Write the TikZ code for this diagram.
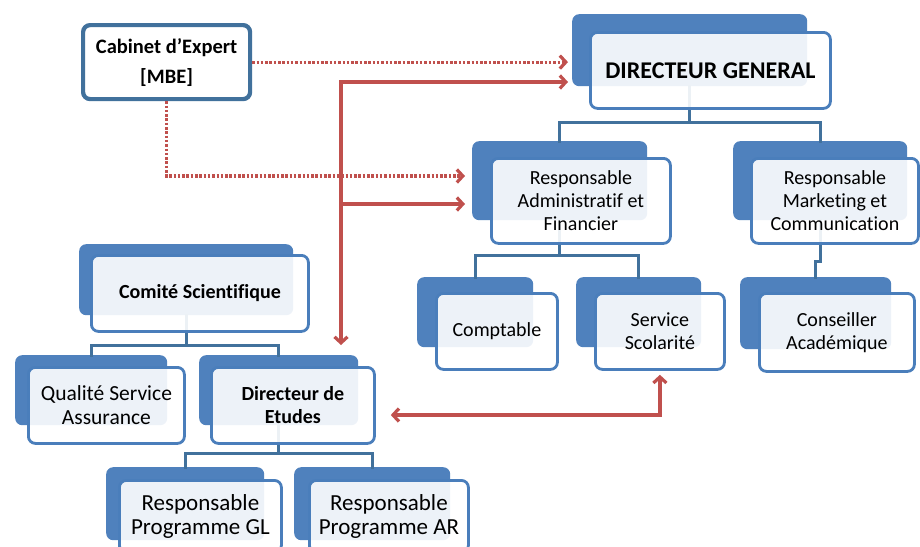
\documentclass[tikz,border=0pt]{standalone}
\usepackage{fontspec}
\setmainfont{Carlito}[Ligatures={NoCommon}]
\usetikzlibrary{arrows.meta}
\definecolor{bblue}{HTML}{4F81BD}
\definecolor{fborder}{HTML}{4A7EBB}
\definecolor{tblue}{HTML}{41719C}
\definecolor{rred}{HTML}{C0504D}
\tikzset{
  backbox/.style={fill=bblue, draw=none, rounded corners=7pt, inner sep=0pt, anchor=north west},
  frontbox/.style={draw=fborder, line width=2.8pt, fill=white, fill opacity=0.9, text opacity=1,
    rounded corners=7pt, inner sep=0pt, anchor=north west, align=center,
    font=\fontsize{20}{23}\selectfont},
  tree/.style={draw=tblue, line width=3pt, line cap=rect},
  >={Straight Barb[length=6pt,width=13pt]},
  redarr/.style={draw=rred, line width=3.2pt, ->},
  reddot/.style={draw=rred, line width=3.2pt, ->, dash pattern=on 2.5pt off 1.8pt},
}
\begin{document}
\begin{tikzpicture}[x=1pt,y=-1pt]
\useasboundingbox (0,0) rectangle (920,546);
\clip (0,0) rectangle (920,546);
\fill[white] (0,0) rectangle (920,546);
% back boxes
\node[backbox, minimum width=235pt, minimum height=72pt] (dgB) at (572,14) {};
\node[backbox, minimum width=175pt, minimum height=79pt] (rafB) at (472,141) {};
\node[backbox, minimum width=174pt, minimum height=79pt] (rmcB) at (733,141) {};
\node[backbox, minimum width=116pt, minimum height=70pt] (coB) at (417,277) {};
\node[backbox, minimum width=125pt, minimum height=70pt] (ssB) at (576,277) {};
\node[backbox, minimum width=151pt, minimum height=72pt] (cnB) at (740,277) {};
\node[backbox, minimum width=214pt, minimum height=71pt] (csB) at (79,244) {};
\node[backbox, minimum width=152pt, minimum height=70pt] (qB) at (15,355) {};
\node[backbox, minimum width=159pt, minimum height=70pt] (deB) at (199,355) {};
\node[backbox, minimum width=158pt, minimum height=73pt] (glB) at (106,467) {};
\node[backbox, minimum width=156pt, minimum height=73pt] (arB) at (294,467) {};
% tree connectors
\draw[tree] (dgB.south) -- (dgB.south |- 0,122);
\draw[tree] (rafB.north) -- (rafB.north |- 0,122) -- (rmcB.north |- 0,122) -- (rmcB.north);
\draw[tree] (rafB.south) -- (rafB.south |- 0,255);
\draw[tree] (coB.north) -- (coB.north |- 0,255) -- (ssB.north |- 0,255) -- (ssB.north);
\draw[tree] (rmcB.south) -- (rmcB.south |- 0,261) -- (cnB.north |- 0,261) -- (cnB.north);
\draw[tree] (csB.south) -- (csB.south |- 0,345);
\draw[tree] (qB.north) -- (qB.north |- 0,345) -- (deB.north |- 0,345) -- (deB.north);
\draw[tree] (deB.south) -- (deB.south |- 0,453);
\draw[tree] (glB.north) -- (glB.north |- 0,453) -- (arB.north |- 0,453) -- (arB.north);
% front boxes
\node[frontbox, minimum width=240pt, minimum height=76pt, font=\fontsize{24}{28}\selectfont\bfseries] (dgF) at (589,31) {DIRECTEUR GENERAL};
\node[frontbox, minimum width=179pt, minimum height=85pt] (rafF) at (490,157) {Responsable\\Administratif et\\Financier};
\node[frontbox, minimum width=167pt, minimum height=85pt] (rmcF) at (750,157) {Responsable\\Marketing et\\Communication};
\node[frontbox, minimum width=121pt, minimum height=76pt] (coF) at (435,292) {Comptable};
\node[frontbox, minimum width=129pt, minimum height=76pt] (ssF) at (594,292) {Service\\Scolarité};
\node[frontbox, minimum width=155pt, minimum height=78pt] (cnF) at (758,292) {Conseiller\\Académique};
\node[frontbox, minimum width=217pt, minimum height=76pt, font=\fontsize{20}{23}\selectfont\bfseries] (csF) at (90,254) {Comité Scientifique};
\node[frontbox, minimum width=156pt, minimum height=76pt, font=\fontsize{21.5}{24}\selectfont] (qF) at (27,366) {Qualité Service\\Assurance};
\node[frontbox, minimum width=163pt, minimum height=76pt, font=\fontsize{20}{23}\selectfont\bfseries] (deF) at (210,366) {Directeur de\\Etudes};
\node[frontbox, minimum width=162pt, minimum height=72pt, font=\fontsize{23}{24}\selectfont] (glF) at (118,479) {Responsable\\Programme GL};
\node[frontbox, minimum width=159pt, minimum height=72pt, font=\fontsize{23}{24}\selectfont] (arF) at (308,479) {Responsable\\Programme AR};
% cabinet
\node[draw=tblue, line width=4.2pt, fill=white, rounded corners=7pt, inner sep=0pt, anchor=north west,
  minimum width=167pt, minimum height=74pt, align=center, font=\fontsize{20.5}{30}\selectfont\bfseries] (cab) at (81,23) {Cabinet d’Expert\\{[MBE]}};
% red arrows
\coordinate (rj1) at (341,82);
\coordinate (rj2) at (341,204);
\draw[reddot, shorten >=4pt] (cab.east) -- (cab.east -| dgB.west);
\draw[reddot, shorten >=7pt] (cab.south) |- (rafB.west |- 0,176);
\draw[redarr, <->, shorten <=4pt, shorten >=10pt] (rj1 -| dgB.west) -| (deB.north -| rj1);
\draw[redarr, shorten >=7pt] (rj2) -- (rj2 -| rafB.west);
\draw[redarr, <->, shorten <=15pt, shorten >=4pt] (deF.east |- 0,415) -| (ssF.south);
\end{tikzpicture}
\end{document}
